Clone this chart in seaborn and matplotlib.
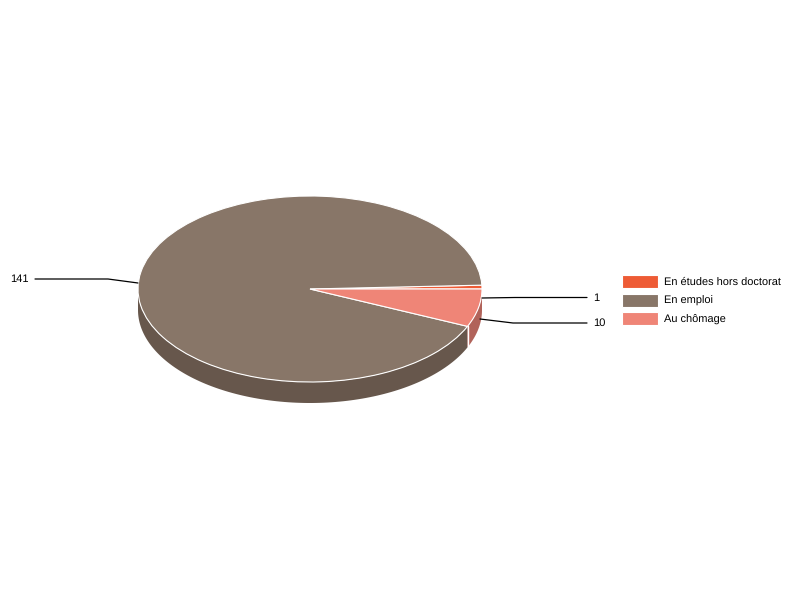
import numpy as np
import matplotlib.pyplot as plt
import seaborn as sns

labels = ['En études hors doctorat', 'En emploi', 'Au chômage']
values = [1, 141, 10]
colors = ['#ee5b35', '#887668', '#ef8577']
side_colors = ['#a53f25', '#67574c', '#b1635a']

sns.set_theme(style='white')
plt.rcParams['font.family'] = ['Liberation Sans', 'DejaVu Sans']
plt.rcParams['text.hinting'] = 'no_hinting'

fig = plt.figure(figsize=(8, 6), dpi=100)

# axes over the whole figure, 1 unit = one pie radius on each axis
cx, cy, rx, ry, depth = 310, 289, 172, 93, 21
ax = fig.add_axes([0, 0, 1, 1])

# side wall, only the front half of the pie is visible
drop = depth / ry
bounds = np.cumsum([0] + values) / sum(values) * 360
for i in range(len(values)):
    start, end = max(bounds[i], 180), bounds[i + 1]
    if end <= start:
        continue
    t = np.radians(np.linspace(start, end, 120))
    xs = np.r_[np.cos(t), np.cos(t[::-1])]
    ys = np.r_[np.sin(t), np.sin(t[::-1]) - drop]
    ax.fill(xs, ys, color=side_colors[i], lw=0, zorder=1)
    if i < len(values) - 1:
        ax.plot([np.cos(t[-1])] * 2, [np.sin(t[-1]), np.sin(t[-1]) - drop],
                color='white', lw=1, zorder=2)

wedges, _ = ax.pie(values, colors=colors, startangle=0, radius=1,
                   wedgeprops={'edgecolor': 'white', 'linewidth': 0.8, 'zorder': 3})
ax.set_aspect('auto')
ax.set_xlim(-cx / rx, (800 - cx) / rx)
ax.set_ylim((cy - 600) / ry, cy / ry)

# leader lines and labels in pixels
overlay = fig.add_axes([0, 0, 1, 1])
overlay.set_xlim(0, 800)
overlay.set_ylim(600, 0)
overlay.axis('off')
overlay.patch.set_alpha(0)

overlay.plot([138, 108, 35], [283, 279, 279], color='black', lw=0.9)
overlay.plot([482, 515, 587], [298, 297.5, 297.5], color='black', lw=0.9)
overlay.plot([480, 513, 587], [319, 323, 323], color='black', lw=0.9)
overlay.text(10, 279.5, str(values[1]), fontsize=8, color='black', va='center')
overlay.text(593, 298, str(values[0]), fontsize=8, color='black', va='center')
overlay.text(593, 323.5, str(values[2]), fontsize=8, color='black', va='center')

fig.legend(wedges, labels, loc='upper left', bbox_to_anchor=(621.5 / 800, 1 - 275 / 600),
           frameon=False, fontsize=7.9, handlelength=3.3, handleheight=1.45,
           labelspacing=0.5, handletextpad=0.55, borderpad=0, borderaxespad=0,
           labelcolor='black')

fig.savefig('out.png', dpi=100)
